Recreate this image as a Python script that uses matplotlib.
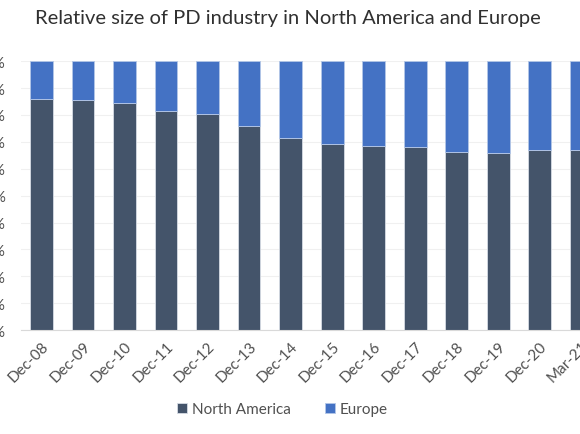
import matplotlib
matplotlib.use("Agg")
import matplotlib.pyplot as plt
import numpy as np

periods = ["Dec-08", "Dec-09", "Dec-10", "Dec-11", "Dec-12", "Dec-13", "Dec-14",
           "Dec-15", "Dec-16", "Dec-17", "Dec-18", "Dec-19", "Dec-20", "Mar-21"]
north_america = [86.1, 85.4, 84.5, 81.3, 80.3, 75.8, 71.5,
                 69.3, 68.3, 67.9, 66.2, 65.7, 66.8, 67.0]
europe = [100 - v for v in north_america]

plt.rcParams["font.family"] = ["Lato", "DejaVu Sans"]

fig = plt.figure(figsize=(5.8, 4.35), dpi=100)
ax = fig.add_axes([0.0358, 0.239, 1.002, 0.618])

x = np.arange(len(periods))
ax.bar(x, north_america, width=0.55, color="#44546A", edgecolor="#D6DCE5",
       linewidth=0.6, label="North America", zorder=2)
ax.bar(x, europe, width=0.55, bottom=north_america, color="#4472C4",
       edgecolor="#B4C7E7", linewidth=0.6, label="Europe", zorder=2)

ax.set_xlim(-0.5, len(periods) - 0.5)
ax.set_ylim(0, 100)
ax.set_yticks(np.arange(0, 101, 10))
ax.set_yticklabels(["%d%%" % v for v in range(0, 101, 10)])
ax.yaxis.grid(True, color="#F0F0F0", linewidth=0.8, zorder=0)
ax.set_axisbelow(True)

ax.set_xticks(x)
ax.set_xticklabels(periods, rotation=45, ha="right", rotation_mode="anchor")

for s in ["top", "right", "left"]:
    ax.spines[s].set_visible(False)
ax.spines["bottom"].set_color("#D9D9D9")
ax.tick_params(axis="both", length=0, labelsize=11, colors="#505050")
ax.tick_params(axis="y", pad=11)
ax.tick_params(axis="x", pad=6)

fig.suptitle("Relative size of PD industry in North America and Europe",
             x=0.497, y=0.977, fontsize=14.5, color="#303030")

fig.legend(loc="center", bbox_to_anchor=(0.487, 0.057), ncol=2, frameon=False,
           fontsize=11, handlelength=0.65, handleheight=0.65, handletextpad=0.35,
           columnspacing=2.2, labelcolor="#505050")

fig.savefig("out.png", dpi=100)
